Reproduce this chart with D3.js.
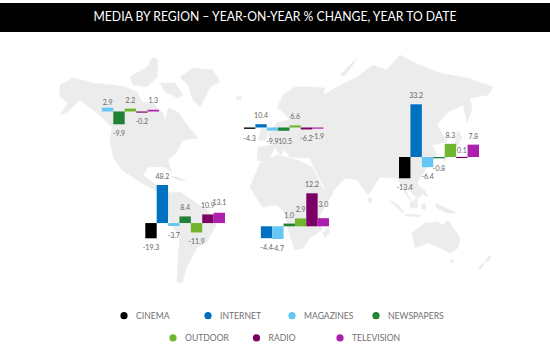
<!DOCTYPE html>
<html>
<head>
<meta charset="utf-8">
<script src="https://cdn.jsdelivr.net/npm/d3@7"></script>
<style>
  html, body { margin: 0; padding: 0; background: #fff; }
  text { font-family: Lato, "Open Sans", sans-serif; }
</style>
</head>
<body>
<div class="canvas"></div>
<script>
const titleText = 'MEDIA BY REGION – YEAR-ON-YEAR % CHANGE, YEAR TO DATE';
const media = ['CINEMA', 'INTERNET', 'MAGAZINES', 'NEWSPAPERS', 'OUTDOOR', 'RADIO', 'TELEVISION'];
const mediaColors = ['#000000', '#0070c0', '#66c6f4', '#1f8235', '#70b52d', '#7a0066', '#ad1fad'];

// null = region has no figure for that medium
const northAmerica = [null, null, 2.9, -9.9, 2.2, -0.2, 1.3];
const europe = [-4.3, 10.4, -9.9, -10.5, 6.6, -6.2, -1.9];
const asia = [-13.4, 33.2, -6.4, -0.8, 8.3, 0.1, 7.8];
const latinAmerica = [-19.3, 48.2, -3.7, 8.4, -11.9, 10.9, 13.1];
const africa = [null, -4.4, -4.7, 1.0, 2.9, 12.2, 3.0];

// where each little chart sits on the map, [left, right] and [bottom, top]
// labelShift is a hand nudge (px) for labels that sit off the usual spot
const panels = [
  { values: northAmerica, xRange: [79, 159], yRange: [124.3, 107.7], labelShift: [0, 0, 3, 0, 0, 0, -1] },
  { values: europe, xRange: [244, 323.5], yRange: [130.8, 124.2], labelShift: [0, 0, 1, 1, 0, 0, -1.5] },
  { values: asia, xRange: [399, 479], yRange: [178.3, 104.3], labelShift: [0, 0, 0, 1, 0, 2, 0] },
  { values: latinAmerica, xRange: [145.3, 225], yRange: [238.3, 185], labelShift: [0, 0, 0, 0, 0, 0, -2] },
  { values: africa, xRange: [249.5, 329], yRange: [239, 193.3], labelShift: [0, 0, 0, 0, 0, 0, -5] }
];

const legendRows = [media.slice(0, 4), media.slice(4)];

// background map
const landOutlines = [
  // north america
  [[60,85],[73,78],[93,83],[112,85],[125,87],[137,92],[142,102],[153,103],[163,113],[165,122],[168,108],[178,112],[187,125],[198,138],[183,140],[177,152],[168,160],[172,173],[165,167],[148,167],[143,175],[153,183],[163,190],[170,193],[158,192],[140,182],[122,170],[113,157],[110,140],[112,127],[97,113],[80,100],[67,112],[60,115],[68,103],[60,97]],
  [[130,77],[147,67],[153,57],[158,60],[157,77],[147,87],[133,85]],
  [[160,83],[175,83],[183,95],[178,98],[165,92]],
  // greenland, iceland
  [[180,77],[193,68],[213,70],[220,82],[210,87],[200,107],[193,100],[188,85]],
  [[236,97],[241,96],[242,99],[237,100]],
  [[170,176],[178,177],[186,181],[178,180]],
  // south america
  [[167,193],[180,192],[207,210],[217,223],[207,242],[197,248],[187,267],[182,283],[177,282],[178,257],[180,237],[170,223],[167,207]],
  // eurasia
  [[257,160],[258,147],[272,145],[268,133],[278,122],[290,120],[283,112],[277,108],[283,95],[295,87],[312,87],[325,88],[323,95],[337,87],[357,77],[373,65],[387,70],[400,55],[413,62],[440,73],[467,78],[493,87],[488,95],[470,98],[472,110],[467,123],[463,105],[448,112],[437,125],[447,142],[432,145],[437,155],[425,170],[417,183],[425,193],[417,198],[407,188],[403,180],[407,193],[413,205],[405,193],[397,178],[380,177],[368,195],[357,180],[345,178],[340,183],[330,195],[322,183],[313,165],[310,158],[290,157],[285,150],[280,155],[275,147],[267,163]],
  [[340,75],[357,58],[352,66],[345,76]],
  [[262,127],[268,130],[266,140],[258,140]],
  [[458,130],[462,138],[452,155],[443,162],[445,155],[454,145]],
  // africa, madagascar
  [[260,163],[277,155],[297,160],[312,167],[322,187],[333,193],[320,215],[322,230],[310,238],[303,248],[295,250],[288,230],[285,213],[277,205],[262,207],[250,187]],
  [[328,227],[330,232],[325,238],[323,233]],
  [[369,197],[372,199],[371,203],[368,201]],
  // islands south east of asia
  [[390,200],[397,204],[405,213],[401,212]],
  [[410,203],[417,198],[418,207],[410,208]],
  [[405,214],[420,215],[420,217],[406,216]],
  [[423,187],[428,197],[424,195]],
  [[422,204],[426,204],[425,210],[422,209]],
  [[435,203],[457,213],[447,213],[437,208]],
  // australia, tasmania, new zealand
  [[412,233],[425,223],[437,222],[443,225],[448,220],[460,238],[458,248],[450,253],[438,247],[428,243],[415,248]],
  [[450,260],[454,260],[452,264]],
  [[490,255],[491,257],[488,262],[485,261]],
  [[485,263],[481,269],[478,268],[482,264]]
];

const drawMap = (parentGroup) => {
  const line = d3.line().curve(d3.curveLinearClosed);
  parentGroup.append('g')
    .selectAll('path')
    .data(landOutlines)
    .enter()
    .append('path')
    .attr('d', line)
    .attr('fill', '#ececec')
    .attr('stroke', '#ececec')
    .attr('stroke-width', 0.5);
};

const drawPanel = (parentGroup, panel) => {
  const xScale = d3.scaleBand()
    .domain(media)
    .range(panel.xRange)
    .padding(0);
  const yScale = d3.scaleLinear()
    .domain(d3.extent(panel.values))
    .range(panel.yRange);

  const rows = media
    .map((name, i) => ({ name: name, value: panel.values[i], color: mediaColors[i], shift: panel.labelShift[i] }))
    .filter(d => d.value !== null);

  const group = parentGroup.append('g');

  group.selectAll('rect')
    .data(rows)
    .enter()
    .append('rect')
    .attr('x', d => xScale(d.name))
    .attr('width', xScale.bandwidth())
    .attr('y', d => Math.min(yScale(d.value), yScale(0)))
    .attr('height', d => Math.max(1.2, Math.abs(yScale(d.value) - yScale(0))))
    .attr('fill', d => d.color);

  group.selectAll('text')
    .data(rows)
    .enter()
    .append('text')
    .attr('x', d => xScale(d.name) + xScale.bandwidth() / 2)
    .attr('y', d => (d.value < 0 ? Math.max(yScale(d.value), yScale(0)) + 9 : Math.min(yScale(d.value), yScale(0)) - 9) + d.shift)
    .attr('text-anchor', 'middle')
    .attr('dominant-baseline', 'central')
    .attr('font-size', 7)
    .attr('fill', '#666')
    .text(d => d.value.toFixed(1));
};

const drawLegend = (parentGroup) => {
  const rowY = d3.scaleBand().domain([0, 1]).range([304.5, 349]);
  const columnX = [
    d3.scaleBand().domain(legendRows[0]).range([124, 460]),
    d3.scaleBand().domain(legendRows[1]).range([173, 423.5])
  ];

  legendRows.forEach((row, r) => {
    const items = parentGroup.append('g')
      .selectAll('g')
      .data(row)
      .enter()
      .append('g')
      .attr('transform', d => `translate(${columnX[r](d)}, ${rowY(r) + rowY.bandwidth() / 2})`);

    items.append('circle')
      .attr('r', 3.6)
      .attr('fill', d => mediaColors[media.indexOf(d)]);

    items.append('text')
      .attr('x', 12)
      .attr('dominant-baseline', 'central')
      .attr('font-size', 8.6)
      .attr('fill', '#707070')
      .text(d => d);
  });
};

const svg = d3.select('.canvas')
  .append('svg')
  .attr('width', 550)
  .attr('height', 360)
  .style('display', 'block');

svg.append('rect')
  .attr('x', 0)
  .attr('y', 3)
  .attr('width', 550)
  .attr('height', 29)
  .attr('fill', '#000');

svg.append('text')
  .attr('x', 275)
  .attr('y', 15.5)
  .attr('text-anchor', 'middle')
  .attr('dominant-baseline', 'central')
  .attr('font-size', 14)
  .attr('textLength', 363)
  .attr('lengthAdjust', 'spacingAndGlyphs')
  .attr('fill', '#fff')
  .text(titleText);

drawMap(svg);
panels.forEach(p => drawPanel(svg, p));
drawLegend(svg);
</script>
</body>
</html>
